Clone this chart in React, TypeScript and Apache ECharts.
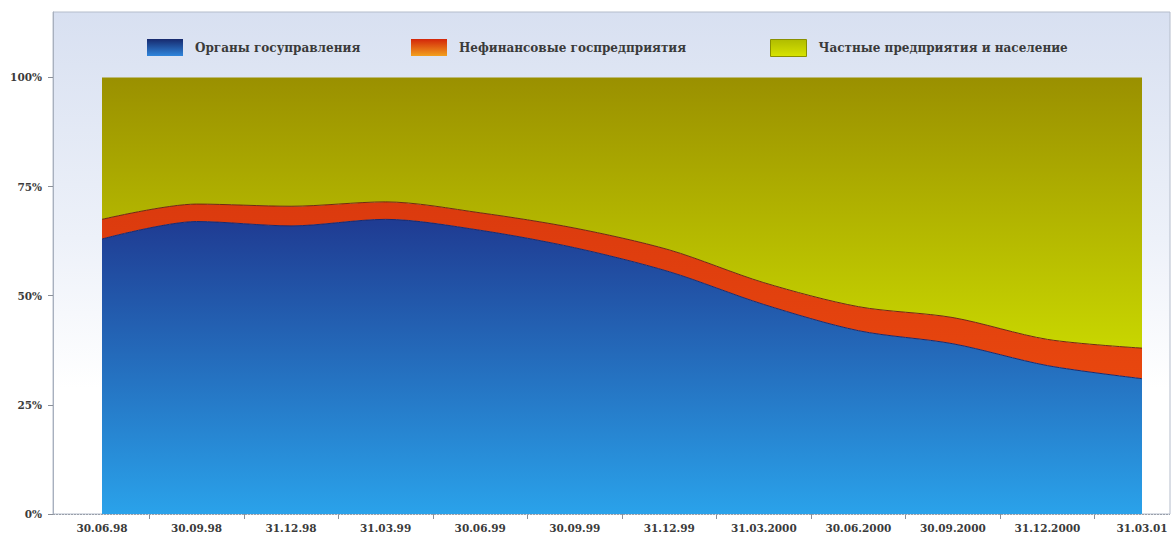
import React, { useEffect, useRef } from "react";
import * as echarts from "echarts";

const categories = [
  "30.06.98", "30.09.98", "31.12.98", "31.03.99", "30.06.99", "30.09.99",
  "31.12.99", "31.03.2000", "30.06.2000", "30.09.2000", "31.12.2000", "31.03.01",
];
const govBodies = [63, 67, 66, 67.5, 65, 61, 55.5, 48, 42, 39, 34, 31];
const nonFinState = [4.5, 4, 4.5, 4, 4, 4.5, 5, 5, 5.5, 6, 6, 7];
const privateSector = [32.5, 29, 29.5, 28.5, 31, 34.5, 39.5, 47, 52.5, 55, 60, 62];
const yTicks = [0, 25, 50, 75, 100];
const seriesNames = [
  "Органы госуправления",
  "Нефинансовые госпредприятия",
  "Частные предприятия и население",
];

const grad = (top: string, bottom: string) =>
  new echarts.graphic.LinearGradient(0, 0, 0, 1, [
    { offset: 0, color: top },
    { offset: 1, color: bottom },
  ]);

export default function App() {
  const ref = useRef<HTMLDivElement>(null);
  useEffect(() => {
    if (!ref.current) return;
    const chart = echarts.init(ref.current, null, { renderer: "svg" });
    const font = "'DejaVu Serif', 'Liberation Serif', serif";
    const legendBase = (name: string, left: number, icon: any) => ({
      left,
      top: 34,
      itemWidth: 36,
      itemHeight: 17,
      icon: "rect",
      selectedMode: false,
      data: [{ name, itemStyle: icon }],
      textStyle: { fontFamily: font, fontSize: 12, fontWeight: "bold", color: "#3a3a3a", padding: [0, 0, 0, 7] },
    });
    chart.setOption({
      animation: false,
      backgroundColor: "#ffffff",
      graphic: [
        {
          type: "rect",
          z: -10,
          shape: { x: 53, y: 12, width: 1117, height: 502 },
          style: {
            fill: new echarts.graphic.LinearGradient(0, 0, 0, 1, [
              { offset: 0, color: "#d8e0f1" },
              { offset: 0.45, color: "#edf1f9" },
              { offset: 0.75, color: "#ffffff" },
              { offset: 1, color: "#ffffff" },
            ]),
            stroke: "#b4bccb",
            lineWidth: 1,
          },
        },
        {
          type: "line",
          z: 5,
          shape: { x1: 53, y1: 514.5, x2: 1170, y2: 514.5 },
          style: { stroke: "#9aa0aa", lineWidth: 1, lineDash: [2, 1] },
        },
      ],
      legend: [
        legendBase(seriesNames[0], 142, { color: grad("#17296e", "#2f86dc") }),
        legendBase(seriesNames[1], 406, { color: grad("#d3260a", "#f2a01e") }),
        legendBase(seriesNames[2], 765, { color: grad("#b0bc00", "#d8e400"), borderColor: "#8a9000", borderWidth: 1 }),
      ],
      grid: { left: 102, right: 34, top: 12, bottom: 26, containLabel: false },
      xAxis: [
        {
          type: "category",
          data: categories,
          boundaryGap: false,
          axisLine: { show: false },
          axisTick: { show: false },
          axisLabel: { fontFamily: font, fontSize: 10.5, fontWeight: "bold", color: "#3a3a3a", margin: 8, interval: 0 },
          splitLine: { show: false },
        },
        {
          type: "value",
          min: 0,
          max: 11,
          interval: 1,
          position: "bottom",
          axisLine: { show: false },
          axisTick: { show: false },
          axisLabel: { show: false },
          splitLine: { show: false },
          minorTick: { show: true, splitNumber: 2, length: 5, lineStyle: { color: "#8a8f98", width: 1 } },
        },
      ],
      yAxis: {
        type: "value",
        min: 0,
        max: 115,
        offset: 49,
        axisLine: { show: true, onZero: false, lineStyle: { color: "#a8b0be", width: 1 } },
        axisTick: { show: true, length: 5, customValues: yTicks, lineStyle: { color: "#8a8f98" } },
        axisLabel: {
          customValues: yTicks,
          formatter: "{value}%",
          fontFamily: font,
          fontSize: 10.5,
          fontWeight: "bold",
          color: "#3a3a3a",
          margin: 11,
        },
        splitLine: { show: false },
      },
      series: [
        {
          name: seriesNames[0],
          type: "line",
          stack: "total",
          data: govBodies,
          smooth: 0.3,
          symbol: "none",
          lineStyle: { width: 1, color: "#1a2a6e" },
          areaStyle: { opacity: 1, color: grad("#1f3b92", "#2aa2ea") },
        },
        {
          name: seriesNames[1],
          type: "line",
          stack: "total",
          data: nonFinState,
          smooth: 0.3,
          symbol: "none",
          lineStyle: { width: 1, color: "#6e2a12" },
          areaStyle: { opacity: 1, color: grad("#db3a0e", "#e8470e") },
        },
        {
          name: seriesNames[2],
          type: "line",
          stack: "total",
          data: privateSector,
          smooth: 0.3,
          symbol: "none",
          lineStyle: { width: 0, color: "#9a9200" },
          areaStyle: { opacity: 1, color: grad("#9a9000", "#c8d600") },
        },
      ],
    });
    return () => chart.dispose();
  }, []);
  return (
    <div
      ref={ref}
      style={{ position: "fixed", left: 0, top: 0, width: 1176, height: 540 }}
    />
  );
}
